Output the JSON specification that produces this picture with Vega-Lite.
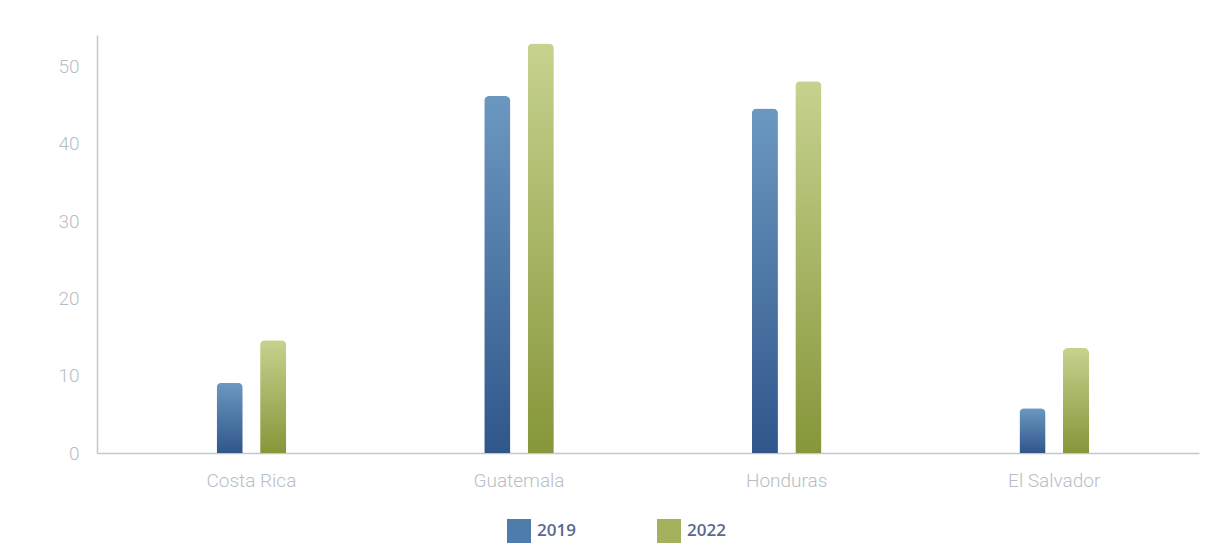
{
  "$schema": "https://vega.github.io/schema/vega-lite/v6.json",
  "autosize": "none",
  "width": 1102,
  "height": 418,
  "padding": {"left": 97, "top": 35, "right": 18, "bottom": 106},
  "background": "#ffffff",
  "data": {
    "values": [
      {"country": "Costa Rica", "year": "2019", "value": 9.1},
      {"country": "Costa Rica", "year": "2022", "value": 14.6},
      {"country": "Guatemala", "year": "2019", "value": 46.2},
      {"country": "Guatemala", "year": "2022", "value": 53.0},
      {"country": "Honduras", "year": "2019", "value": 44.6},
      {"country": "Honduras", "year": "2022", "value": 48.1},
      {"country": "El Salvador", "year": "2019", "value": 5.8},
      {"country": "El Salvador", "year": "2022", "value": 13.6}
    ]
  },
  "mark": {"type": "bar", "cornerRadiusTopLeft": 5, "cornerRadiusTopRight": 5, "strokeWidth": 0},
  "encoding": {
    "x": {
      "field": "country",
      "type": "nominal",
      "sort": ["Costa Rica", "Guatemala", "Honduras", "El Salvador"],
      "scale": {"paddingInner": 0.74, "paddingOuter": 0.429, "align": 0.521},
      "axis": {
        "title": null,
        "labelAngle": 0,
        "ticks": false,
        "domainColor": "#c3c8ce",
        "domainWidth": 1.5,
        "labelColor": "#b7bdc5",
        "labelFont": "Roboto",
        "labelFontWeight": 300,
        "labelFontSize": 19,
        "labelPadding": 18
      }
    },
    "xOffset": {
      "field": "year",
      "type": "nominal",
      "scale": {"paddingInner": 0.4, "paddingOuter": 0}
    },
    "y": {
      "field": "value",
      "type": "quantitative",
      "scale": {"domain": [0, 54.1], "nice": false},
      "axis": {
        "title": null,
        "values": [0, 10, 20, 30, 40, 50],
        "grid": false,
        "ticks": false,
        "domainColor": "#c3c8ce",
        "domainWidth": 1.5,
        "labelColor": "#b7bdc5",
        "labelFont": "Roboto",
        "labelFontWeight": 300,
        "labelFontSize": 19,
        "labelPadding": 18
      }
    },
    "stroke": {
      "field": "year",
      "type": "nominal",
      "scale": {"domain": ["2019", "2022"], "range": ["#4f7dab", "#a5b15c"]},
      "legend": {
        "title": null,
        "orient": "none",
        "direction": "horizontal",
        "legendX": 410,
        "legendY": 484,
        "symbolType": "square",
        "symbolSize": 144,
        "symbolStrokeWidth": 12,
        "symbolOpacity": 1,
        "labelFont": "Open Sans",
        "labelFontSize": 17,
        "labelFontWeight": 600,
        "labelColor": "#5b6990",
        "labelOffset": 6,
        "columnPadding": 63,
        "encode": {
          "symbols": {
            "update": {
              "strokeJoin": {"value": "round"},
              "opacity": {"value": 1}
            }
          }
        }
      }
    },
    "fill": {
      "condition": {
        "test": "datum.year === '2019'",
        "value": {"gradient": "linear", "x1": 0, "y1": 0, "x2": 0, "y2": 1, "stops": [{"offset": 0, "color": "#6b98c1"}, {"offset": 1, "color": "#30568a"}]}
      },
      "value": {"gradient": "linear", "x1": 0, "y1": 0, "x2": 0, "y2": 1, "stops": [{"offset": 0, "color": "#c6d28e"}, {"offset": 1, "color": "#86963a"}]}
    }
  },
  "config": {"view": {"stroke": null}}
}
